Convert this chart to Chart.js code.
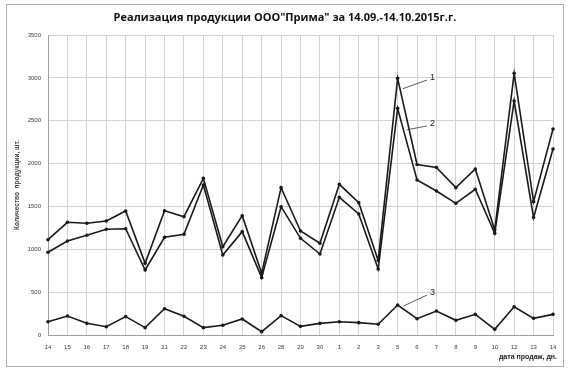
<!DOCTYPE html>
<html>
<head>
  <meta charset="UTF-8" />
  <title>Реализация продукции</title>
  <script src="https://cdn.jsdelivr.net/npm/chart.js@4.4.0/dist/chart.umd.min.js"></script>
  <style>
    html, body { margin: 0; padding: 0; background: #fff; }
    #wrap { width: 570px; height: 371px; }
  </style>
</head>
<body>
  <div id="wrap"><canvas id="canvas" width="570" height="371"></canvas></div>
  <script>
    // дни продаж 14.09 - 14.10
    const days = ['14','15','16','17','18','19','21','22','23','24','25','26','28','29','30',
                  '1','2','3','5','6','7','8','9','10','12','13','14'];
    const series1 = [1112,1315,1303,1330,1447,836,1450,1380,1828,1030,1392,720,1719,1213,1070,
                     1758,1544,870,2994,1990,1955,1719,1937,1225,3053,1556,2403];
    const series2 = [965,1097,1163,1233,1240,758,1140,1175,1750,933,1206,669,1497,1128,945,
                     1606,1412,770,2644,1808,1680,1536,1700,1186,2730,1370,2170];
    const series3 = [155,222,136,97,214,86,307,218,86,113,187,39,226,101,136,
                     155,144,125,350,190,280,171,241,66,330,194,241];
    const yTicks = [0,500,1000,1500,2000,2500,3000,3500];

    const txt = '#404040';
    const tickFont = { family: 'Liberation Sans', size: 6 };

    const extras = {
      id: 'extras',
      beforeDraw(chart) {
        const c = chart.ctx;
        c.save();
        c.fillStyle = '#fff';
        c.fillRect(0, 0, chart.width, chart.height);
        c.strokeStyle = '#b0b0b0';
        c.lineWidth = 1;
        c.strokeRect(6.5, 4.5, 557, 362);
        c.restore();
      },
      afterDraw(chart) {
        const c = chart.ctx;
        const x = chart.scales.x, y = chart.scales.y;
        c.save();
        c.fillStyle = '#111';
        c.textAlign = 'center';
        c.textBaseline = 'middle';
        c.font = 'bold 11px "Open Sans"';
        c.fillText('Реализация продукции ООО"Прима" за 14.09.-14.10.2015г.г.', 285, 18);

        c.save();
        c.translate(17, 185);
        c.rotate(-Math.PI / 2);
        c.font = 'bold 6.5px "Liberation Sans"';
        c.fillStyle = txt;
        c.fillText('Количество  продукции, шт.', 0, 0);
        c.restore();

        c.textAlign = 'right';
        c.font = 'bold 7px "Liberation Sans"';
        c.fillStyle = '#222';
        c.fillText('дата продаж, дн.', 557, 357);

        // номера линий с выносками
        const i = 18;
        const px = x.getPixelForValue(i);
        const marks = [
          ['1', series1, 0.12, 78],
          ['2', series2, 0.3, 124],
          ['3', series3, 0, 293]
        ];
        c.strokeStyle = '#333';
        c.lineWidth = 0.8;
        c.font = '9px "Liberation Sans"';
        c.fillStyle = '#222';
        c.textAlign = 'left';
        marks.forEach(([lab, s, t, ly]) => {
          const x0 = px, y0 = y.getPixelForValue(s[i]);
          const x1 = x.getPixelForValue(i + 1), y1 = y.getPixelForValue(s[i + 1]);
          const sx = t === 0 ? x0 + 6 : x0 + (x1 - x0) * t + 3;
          const sy = t === 0 ? y0 + 1 : y0 + (y1 - y0) * t;
          c.beginPath();
          c.moveTo(sx, sy);
          c.lineTo(427, ly + 2);
          c.stroke();
          c.fillText(lab, 430, ly);
        });
        c.restore();
      }
    };

    const lineStyle = {
      borderColor: '#1a1a1a',
      backgroundColor: '#1a1a1a',
      borderWidth: 1.6,
      pointRadius: 1.8,
      pointBorderWidth: 0,
      tension: 0,
      fill: false
    };

    new Chart(document.getElementById('canvas').getContext('2d'), {
      type: 'line',
      data: {
        labels: days,
        datasets: [
          Object.assign({ label: '1', data: series1 }, lineStyle),
          Object.assign({ label: '2', data: series2 }, lineStyle),
          Object.assign({ label: '3', data: series3 }, lineStyle)
        ]
      },
      options: {
        responsive: false,
        animation: false,
        devicePixelRatio: 1,
        layout: { padding: { left: 0, top: 35, right: 17, bottom: 0 } },
        plugins: {
          legend: { display: false },
          title: { display: false },
          tooltip: { enabled: false }
        },
        scales: {
          x: {
            offset: false,
            grid: { color: '#d4d4d4', lineWidth: 1, drawTicks: false },
            border: { color: '#a0a0a0' },
            ticks: { color: txt, font: tickFont, padding: 9, maxRotation: 0, autoSkip: false },
            afterFit(s) { s.height = 36; }
          },
          y: {
            min: 0,
            max: 3500,
            afterBuildTicks(s) { s.ticks = yTicks.map(v => ({ value: v })); },
            grid: { color: '#d4d4d4', lineWidth: 1, drawTicks: false },
            border: { color: '#a0a0a0' },
            ticks: { color: txt, font: tickFont, padding: 7, callback: v => String(v) },
            afterFit(s) { s.width = 48; }
          }
        }
      },
      plugins: [extras]
    });
  </script>
</body>
</html>
